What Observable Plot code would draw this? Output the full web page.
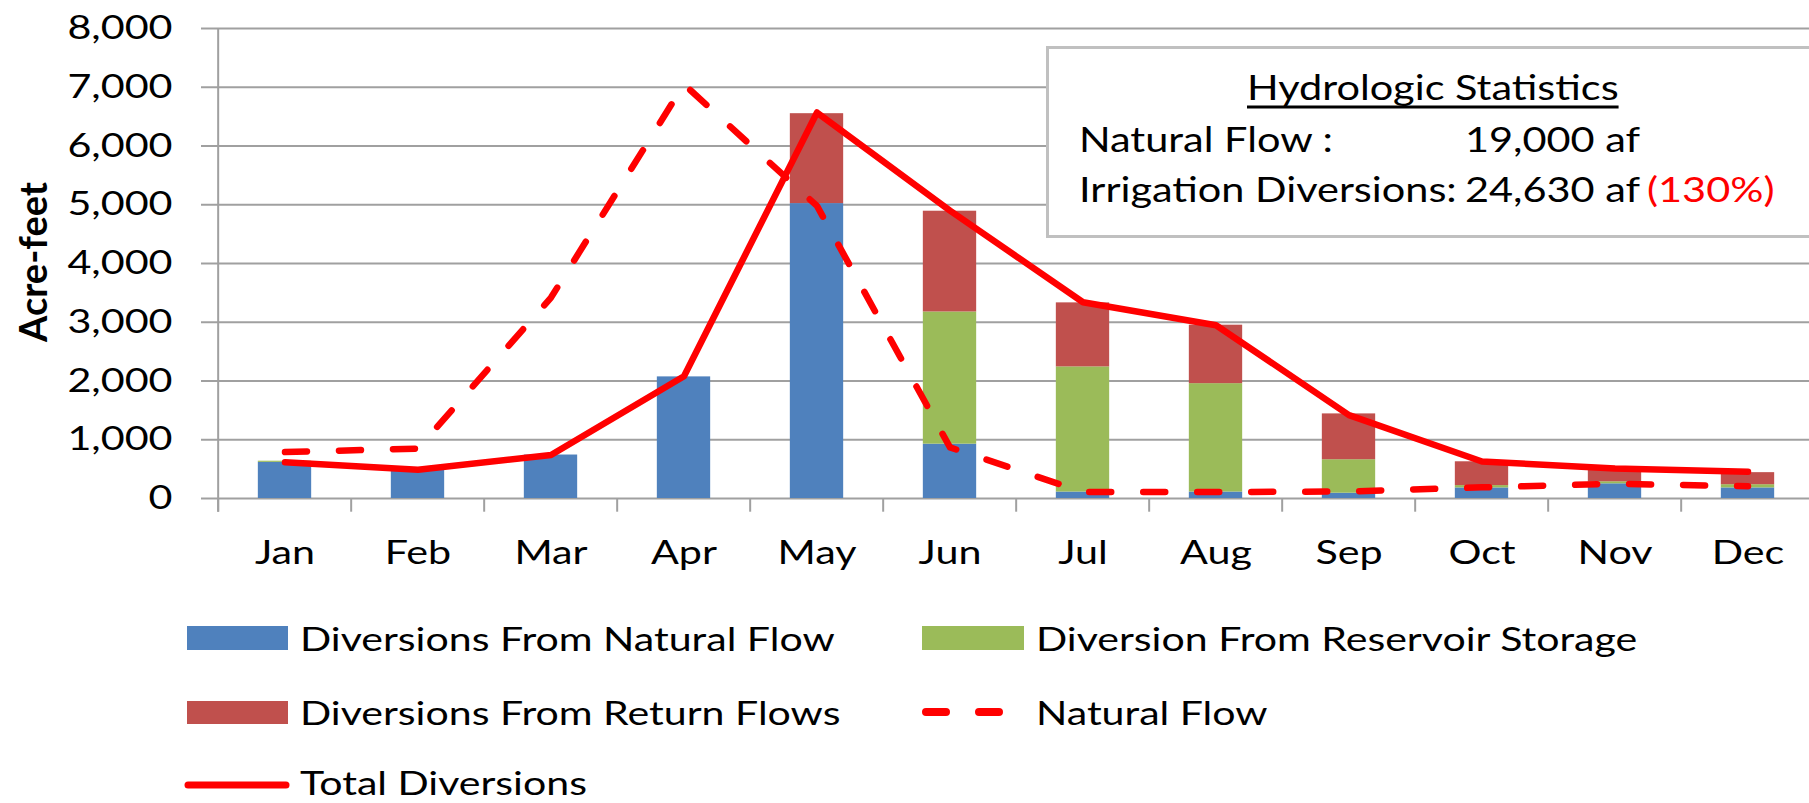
<!DOCTYPE html>
<html>
<head>
<meta charset="utf-8">
<script src="https://cdn.jsdelivr.net/npm/d3@7"></script>
<script src="https://cdn.jsdelivr.net/npm/@observablehq/plot@0.6"></script>
<style>
html, body { margin: 0; padding: 0; background: #fff; }
#wrap { position: relative; width: 1809px; height: 803px; overflow: hidden; font-family: Lato, sans-serif; }
#wrap > svg { display: block; }
#overlay { position: absolute; left: 0; top: 0; pointer-events: none; }
</style>
</head>
<body>
<div id="wrap"></div>
<script>
// ---- data ----
const months = ["Jan", "Feb", "Mar", "Apr", "May", "Jun", "Jul", "Aug", "Sep", "Oct", "Nov", "Dec"];
const seriesNames = ["Diversions From Natural Flow", "Diversion From Reservoir Storage", "Diversions From Return Flows"];
const seriesColors = ["#4F81BD", "#9BBB59", "#C0504D"];
const fromNaturalFlow = [615, 490, 740, 2070, 5020, 925, 110, 110, 90, 180, 250, 180];
const fromReservoir   = [20, 0, 0, 0, 0, 2250, 2130, 1845, 570, 40, 35, 55];
const fromReturnFlows = [0, 0, 0, 0, 1530, 1715, 1090, 995, 780, 405, 195, 205];
const naturalFlow     = [790, 850, 3420, 7050, 4980, 870, 110, 110, 120, 190, 250, 210];
const totalDiversions = [615, 490, 740, 2080, 6570, 4900, 3340, 2950, 1420, 630, 510, 455];
const yTicks = [0, 1000, 2000, 3000, 4000, 5000, 6000, 7000, 8000];
const lineNames = ["Natural Flow", "Total Diversions"];
const yTitle = "Acre-feet";
const statsTitle = "Hydrologic Statistics";
const statsLabels = ["Natural Flow :", "Irrigation Diversions:"];
const statsValues = ["19,000 af", "24,630 af"];
const statsPercent = "(130%)";

// ---- tables built from the arrays ----
const seriesArrays = [fromNaturalFlow, fromReservoir, fromReturnFlows];
const stacked = months.flatMap((m, i) => seriesNames.map((s, k) => ({month: m, series: s, value: seriesArrays[k][i]})));
const lineRows = months.map((m, i) => ({month: m, natural: naturalFlow[i], total: totalDiversions[i]}));

// ---- layout / style ----
const W = 1809, H = 580, FS = 33, SX = 1.25;
const X0 = 214, X1 = 1818;
const band = (X1 - X0) / months.length;
const barW = 54;
const grid = "#a0a0a0";
const lineRed = "#ff0000";

const plot = Plot.plot({
  width: W, height: H,
  marginLeft: X0, marginRight: 0, marginTop: 28, marginBottom: 82,
  style: {fontFamily: "Lato, sans-serif", fontSize: FS + "px", color: "#000", background: "#fff", overflow: "visible"},
  x: {domain: months, range: [X0, X1], padding: 0, label: null},
  y: {domain: [0, 8000], label: null},
  color: {domain: seriesNames, range: seriesColors},
  marks: [
    Plot.ruleY(yTicks, {stroke: grid, strokeWidth: 2}),
    Plot.ruleX(months.slice(0, 1), {x: d => d, dx: -band / 2, stroke: grid, strokeWidth: 2, insetBottom: -13.7}),
    Plot.ruleX(months, {x: d => d, dx: -band / 2, stroke: grid, strokeWidth: 2, insetTop: 470, insetBottom: -13.7}),
    Plot.axisY(yTicks, {tickFormat: d3.format(","), tickSize: 13, tickPadding: 29, stroke: grid, strokeWidth: 2, fill: "#000"}),
    Plot.axisX({tickSize: 0, tickPadding: 42, fill: "#000"}),
    Plot.barY(stacked, {x: "month", y: "value", fill: "series", insetLeft: (band - barW) / 2, insetRight: (band - barW) / 2}),
    Plot.line(lineRows, {x: "month", y: "natural", stroke: lineRed, strokeWidth: 6.5, strokeDasharray: "22,32", strokeLinecap: "round", strokeLinejoin: "round"}),
    Plot.line(lineRows, {x: "month", y: "total", stroke: lineRed, strokeWidth: 6.5, strokeLinejoin: "round"})
  ]
});

const wrap = document.getElementById("wrap");
wrap.appendChild(plot);

// stretch axis text horizontally like the reference
function stretch(t, s) {
  const tr = t.getAttribute("transform");
  if (tr) {
    t.setAttribute("transform", tr + ` scale(${s},1)`);
  } else {
    const x = +t.getAttribute("x") || 0, y = +t.getAttribute("y") || 0;
    t.setAttribute("x", 0); t.setAttribute("y", 0);
    t.setAttribute("transform", `translate(${x},${y}) scale(${s},1)`);
  }
}
d3.select(plot).selectAll("text").each(function() { stretch(this, SX); });

// ---- overlay: y title, stats box, legend ----
const svg = d3.select(wrap).append("svg")
  .attr("id", "overlay").attr("width", W).attr("height", 803)
  .style("font-family", "Lato, sans-serif");

svg.append("text")
  .attr("transform", "translate(47,262) rotate(-90)")
  .attr("text-anchor", "middle").attr("font-weight", "bold").attr("font-size", 38).attr("fill", "#000")
  .text(yTitle);

// stats box
svg.append("rect").attr("x", 1047.5).attr("y", 47.5).attr("width", 800).attr("height", 189)
  .attr("fill", "#fff").attr("stroke", "#c0c0c0").attr("stroke-width", 3);
const BFS = 34, BSX = 1.22;
function boxText(str, x, y, color) {
  return svg.append("text").attr("transform", `translate(${x},${y}) scale(${BSX},1)`)
    .attr("font-size", BFS).attr("fill", color || "#000").text(str);
}
const tt = boxText(statsTitle, 1247, 100);
const tw = tt.node().getBBox().width * BSX;
svg.append("line").attr("x1", 1247).attr("x2", 1247 + tw).attr("y1", 107).attr("y2", 107)
  .attr("stroke", "#000").attr("stroke-width", 3);
boxText(statsLabels[0], 1079, 152);
boxText(statsValues[0], 1465, 152);
boxText(statsLabels[1], 1079, 202);
boxText(statsValues[1], 1465, 202);
boxText(statsPercent, 1647, 202, lineRed);

// legend
const LFS = 33, LSX = 1.245;
function legText(str, x, y) {
  svg.append("text").attr("transform", `translate(${x},${y}) scale(${LSX},1)`)
    .attr("font-size", LFS).attr("fill", "#000").text(str);
}
svg.append("rect").attr("x", 187).attr("y", 626).attr("width", 101).attr("height", 24).attr("fill", seriesColors[0]);
legText(seriesNames[0], 300, 651);
svg.append("rect").attr("x", 922).attr("y", 626).attr("width", 102).attr("height", 24).attr("fill", seriesColors[1]);
legText(seriesNames[1], 1036, 651);
svg.append("rect").attr("x", 187).attr("y", 701).attr("width", 101).attr("height", 23).attr("fill", seriesColors[2]);
legText(seriesNames[2], 300, 725);
svg.append("line").attr("x1", 926).attr("x2", 999).attr("y1", 712).attr("y2", 712)
  .attr("stroke", lineRed).attr("stroke-width", 8).attr("stroke-dasharray", "20,33").attr("stroke-linecap", "round");
legText(lineNames[0], 1036, 725);
svg.append("line").attr("x1", 188).attr("x2", 286).attr("y1", 785).attr("y2", 785)
  .attr("stroke", lineRed).attr("stroke-width", 7).attr("stroke-linecap", "round");
legText(lineNames[1], 300, 795);
</script>
</body>
</html>
